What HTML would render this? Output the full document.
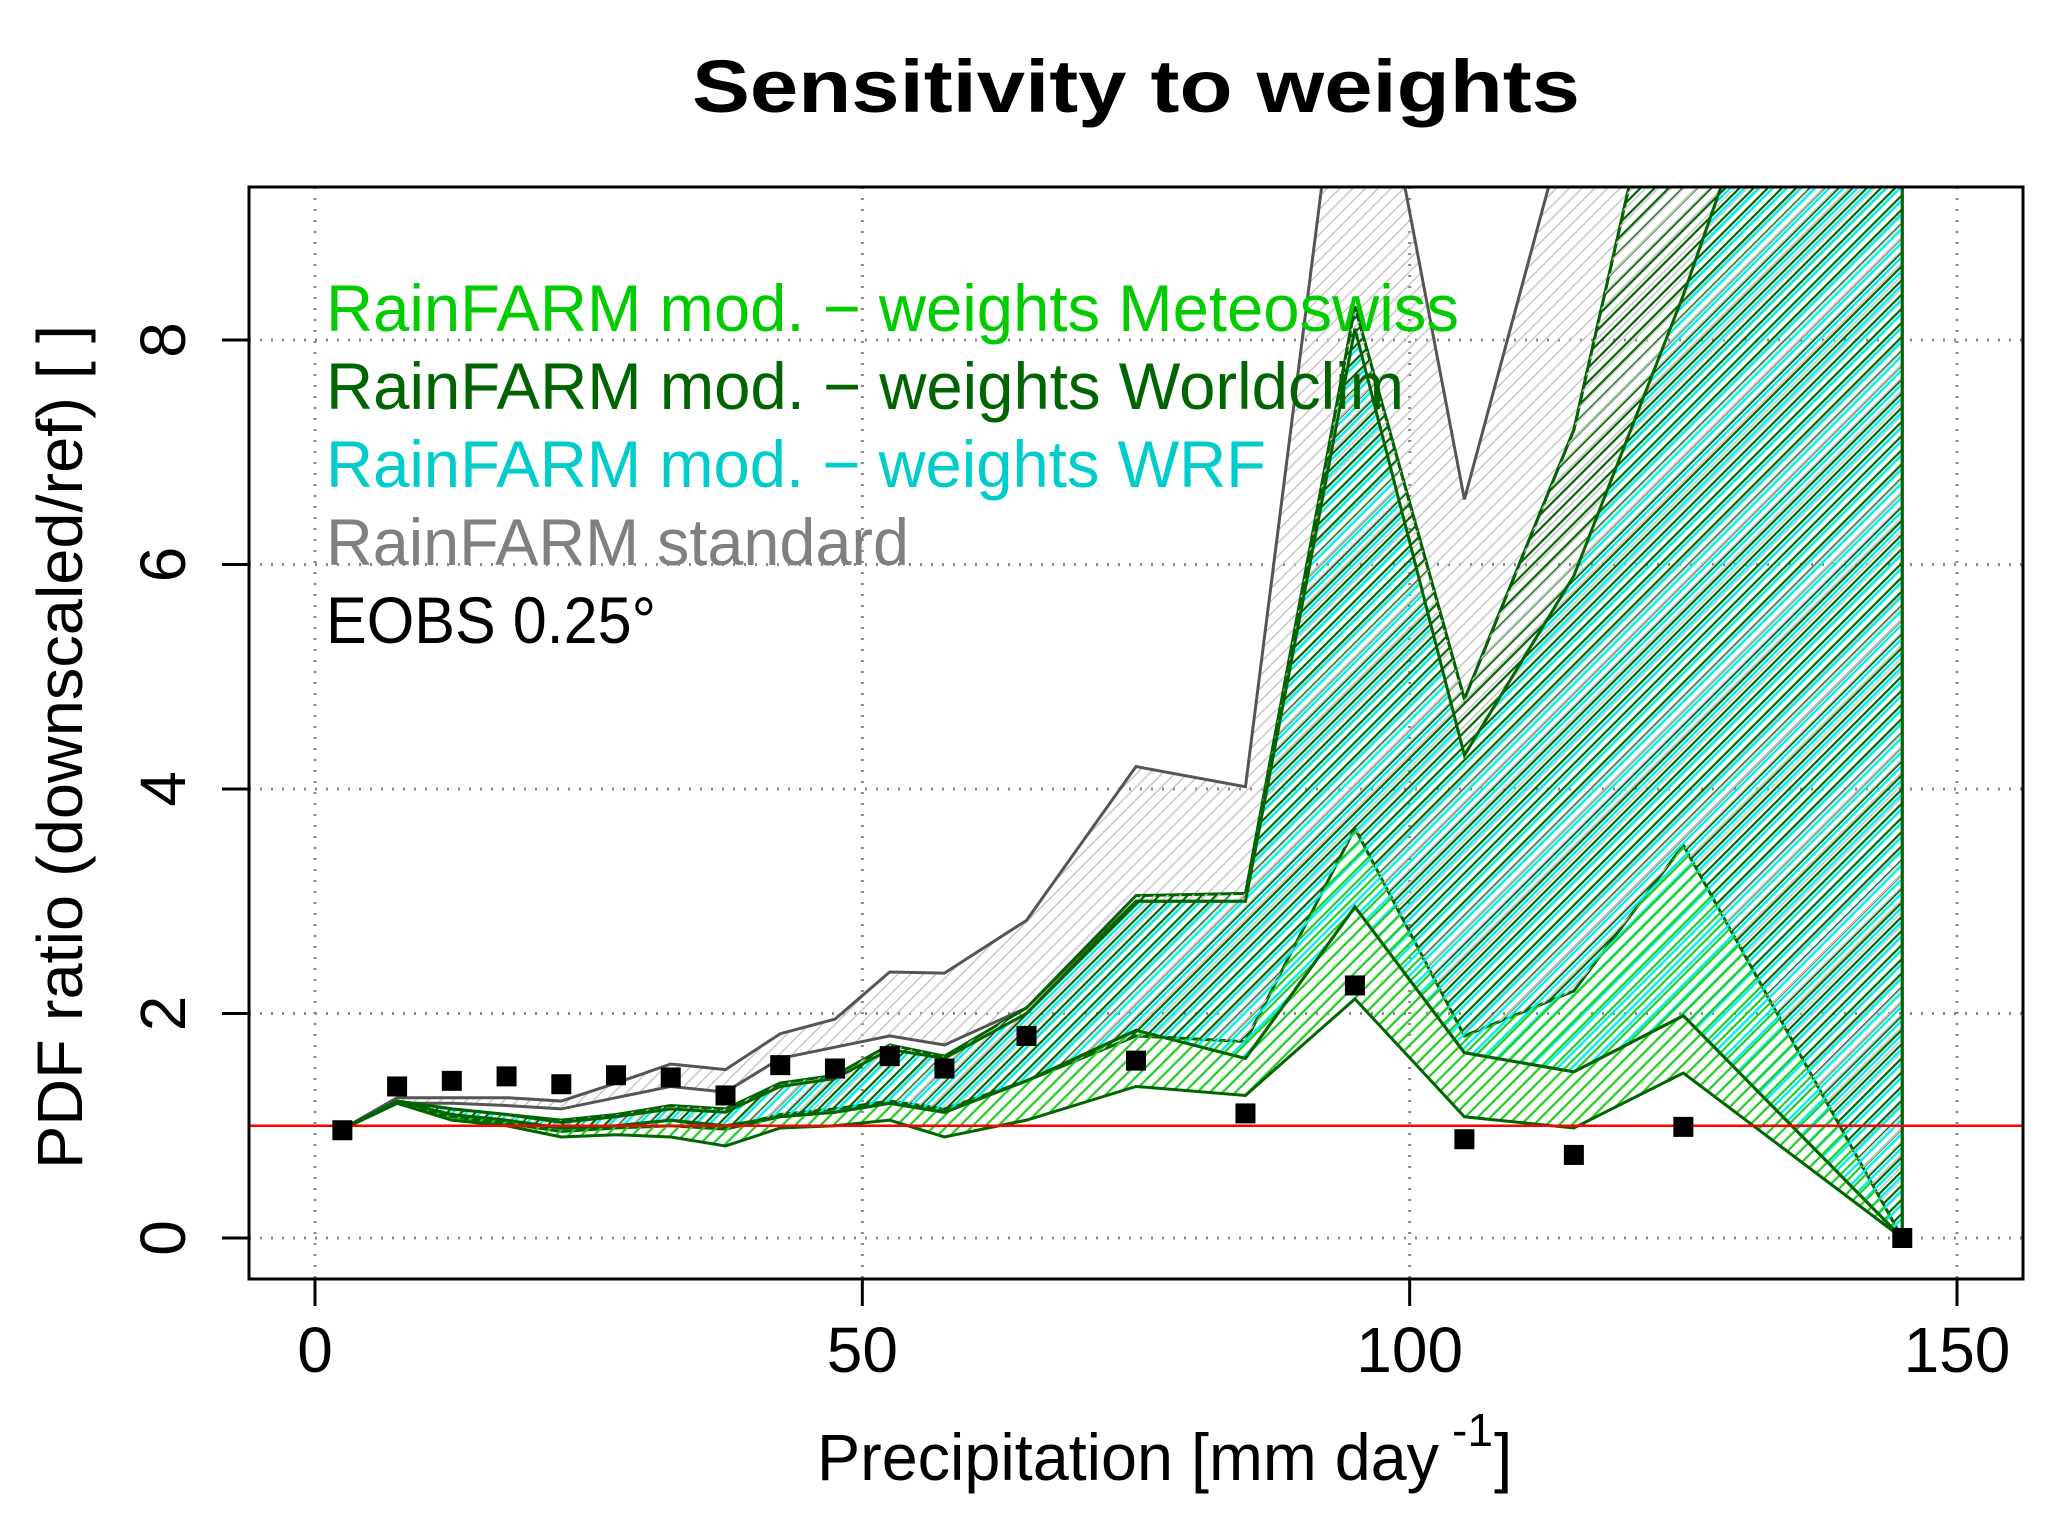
<!DOCTYPE html>
<html><head><meta charset="utf-8"><style>
html,body{margin:0;padding:0;background:#fff;}
svg{display:block;font-family:"Liberation Sans",Arial,sans-serif;}
</style></head><body>
<svg id="chart" width="2067" height="1513" viewBox="0 0 2067 1513">
<defs>
<pattern id="pGray" patternUnits="userSpaceOnUse" width="9" height="9" patternTransform="rotate(45)"><line x1="0" y1="0" x2="0" y2="9" stroke="#c8c8c8" stroke-width="3"/></pattern>
<pattern id="pDark" patternUnits="userSpaceOnUse" width="10" height="10" patternTransform="rotate(45)"><line x1="3" y1="0" x2="3" y2="10" stroke="#006400" stroke-width="2.2"/></pattern>
<pattern id="pCyan" patternUnits="userSpaceOnUse" width="10" height="10" patternTransform="rotate(45)"><line x1="6.5" y1="0" x2="6.5" y2="10" stroke="#00f0f0" stroke-width="2.4"/></pattern>
<pattern id="pLime" patternUnits="userSpaceOnUse" width="9" height="9" patternTransform="rotate(45)"><line x1="8" y1="0" x2="8" y2="9" stroke="#22cc22" stroke-width="2.4"/></pattern>
<clipPath id="plotClip"><rect x="249" y="187" width="1774" height="1092"/></clipPath>
</defs>
<g id="grid"></g>
<g id="bands" clip-path="url(#plotClip)"></g>
<g id="marks"></g>
<rect x="249" y="187" width="1774" height="1092" fill="none" stroke="#000" stroke-width="3"/>
<g id="axes"></g>
<text x="1136" y="112" text-anchor="middle" font-size="74" font-weight="bold" textLength="888" lengthAdjust="spacingAndGlyphs">Sensitivity to weights</text>
<g font-size="66">
<text x="326" y="331" fill="#00cc00" textLength="1133" lengthAdjust="spacingAndGlyphs">RainFARM mod. − weights Meteoswiss</text>
<text x="326" y="409" fill="#006400" textLength="1078" lengthAdjust="spacingAndGlyphs">RainFARM mod. − weights Worldclim</text>
<text x="326" y="487" fill="#00cccc" textLength="940" lengthAdjust="spacingAndGlyphs">RainFARM mod. − weights WRF</text>
<text x="326" y="565" fill="#808080" textLength="583" lengthAdjust="spacingAndGlyphs">RainFARM standard</text>
<text x="326" y="643" fill="#000" textLength="330" lengthAdjust="spacingAndGlyphs">EOBS 0.25°</text>
</g>
<g>
<text x="817" y="1480" font-size="66" textLength="622" lengthAdjust="spacingAndGlyphs">Precipitation [mm day</text>
<text x="1452" y="1446" font-size="46">-1</text>
<text x="1494" y="1480" font-size="66">]</text>
</g>
<text transform="translate(82,747) rotate(-90)" text-anchor="middle" font-size="64" textLength="844" lengthAdjust="spacingAndGlyphs">PDF ratio (downscaled/ref) [ ]</text>
<script>
const xs=[2.5,7.5,12.5,17.5,22.5,27.5,32.5,37.5,42.5,47.5,52.5,57.5,65,75,85,95,105,115,125,145];
const stdHi=[0.97,1.25,1.25,1.25,1.22,1.38,1.55,1.5,1.82,1.95,2.37,2.36,2.83,4.2,4.02,11.7,6.58,10.2,14,14];
const stdLo=[0.97,1.2,1.2,1.18,1.15,1.25,1.35,1.3,1.6,1.7,1.8,1.72,2.05,3.0,3.0,8.3,4.8,7.2,11.5,14];
const wcHi=[0.97,1.22,1.15,1.1,1.05,1.1,1.18,1.15,1.38,1.45,1.72,1.62,2.05,3.05,3.07,8.3,4.8,7.2,11.5,14];
const wcLo=[0.97,1.2,1.1,1.03,0.98,1.0,1.05,0.98,1.1,1.15,1.22,1.15,1.4,1.8,1.75,3.65,1.8,2.2,3.5,0];
const wrfHi=[0.97,1.22,1.15,1.1,1.03,1.08,1.15,1.12,1.35,1.42,1.68,1.6,2.0,3.0,3.0,8.1,4.3,5.9,8.4,14];
const wrfLo=[0.97,1.2,1.08,1.02,0.95,0.98,1.0,0.97,1.08,1.12,1.2,1.12,1.4,1.85,1.6,2.95,1.65,1.48,1.98,0];
const msMid=[0.97,1.2,1.08,1.02,0.95,0.98,1.0,0.97,1.08,1.12,1.2,1.12,1.4,1.8,1.75,3.65,1.8,2.2,3.5,0];
const msHi=[0.97,1.22,1.1,1.05,0.98,1.0,1.05,1.0,1.08,1.12,1.2,1.12,1.4,1.85,1.6,2.95,1.65,1.48,1.98,0];
const msLo=[0.97,1.2,1.05,1.0,0.9,0.92,0.9,0.82,0.98,1.0,1.05,0.9,1.05,1.35,1.27,2.13,1.08,0.98,1.47,0];
const eobs=[0.96,1.35,1.40,1.44,1.37,1.45,1.43,1.27,1.54,1.51,1.62,1.51,1.80,1.58,1.11,2.25,0.88,0.74,0.99,0];
const xTicks=[0,50,100,150];
const yTicks=[0,2,4,6,8];
const refLine=1;

const NS='http://www.w3.org/2000/svg';
const X=v=>315+(1957-315)/150*v;
const Y=v=>1238-(1238-340)/8*v;
function mk(tag,attrs,parent){const e=document.createElementNS(NS,tag);for(const k in attrs)e.setAttribute(k,attrs[k]);parent.appendChild(e);return e;}
const grid=document.getElementById('grid'),bands=document.getElementById('bands'),marks=document.getElementById('marks'),axes=document.getElementById('axes');
xTicks.forEach(t=>{
  const g=mk('line',{x1:X(t),x2:X(t),y1:187,y2:1279,stroke:'#888','stroke-width':3,'stroke-dasharray':'2 9'},grid);
  
  
  const tk=mk('line',{x1:X(t),x2:X(t),y1:1279,y2:1306,stroke:'#000','stroke-width':3},axes);
  
  
  const lb=mk('text',{x:X(t),y:1372,'text-anchor':'middle','font-size':64},axes);
  lb.textContent=t;
  
  
});
yTicks.forEach(t=>{
  const g=mk('line',{x1:249,x2:2023,y1:Y(t),y2:Y(t),stroke:'#888','stroke-width':3,'stroke-dasharray':'2 9'},grid);
  
  
  const tk=mk('line',{x1:222,x2:249,y1:Y(t),y2:Y(t),stroke:'#000','stroke-width':3},axes);
  
  
  const lb=mk('text',{transform:`translate(185,${Y(t)}) rotate(-90)`,'text-anchor':'middle','font-size':64},axes);
  lb.textContent=t;
  
  
});
function band(hi,lo,fill,stroke,name){
  let pts=xs.map((x,i)=>X(x)+','+Y(hi[i]));
  pts=pts.concat(xs.map((x,i)=>X(x)+','+Y(lo[i])).reverse());
  const p=mk('polygon',{points:pts.join(' '),fill:fill,stroke:stroke,'stroke-width':stroke==='none'?0:3,'stroke-linejoin':'miter'},bands);
  
  
}
band(stdHi,stdLo,'url(#pGray)','#555','band-standard');
band(wcHi,wcLo,'url(#pDark)','#006400','band-worldclim');
band(wcHi,wcLo,'url(#pGray)','none','band-standard-overlap');
band(wrfHi,wrfLo,'url(#pCyan)','#006400','band-wrf');
band(msMid,msHi,'url(#pLime)','none','band-meteoswiss-upper');
band(msHi,msLo,'url(#pLime)','#006400','band-meteoswiss');
const rl=mk('line',{x1:249,x2:2023,y1:Y(refLine),y2:Y(refLine),stroke:'#ff0000','stroke-width':2.5},marks);


eobs.forEach((v,i)=>{
  const r=mk('rect',{x:X(xs[i])-10,y:Y(v)-10,width:20,height:20,fill:'#000'},marks);
  
  
});
</script>
</svg>
</body></html>
